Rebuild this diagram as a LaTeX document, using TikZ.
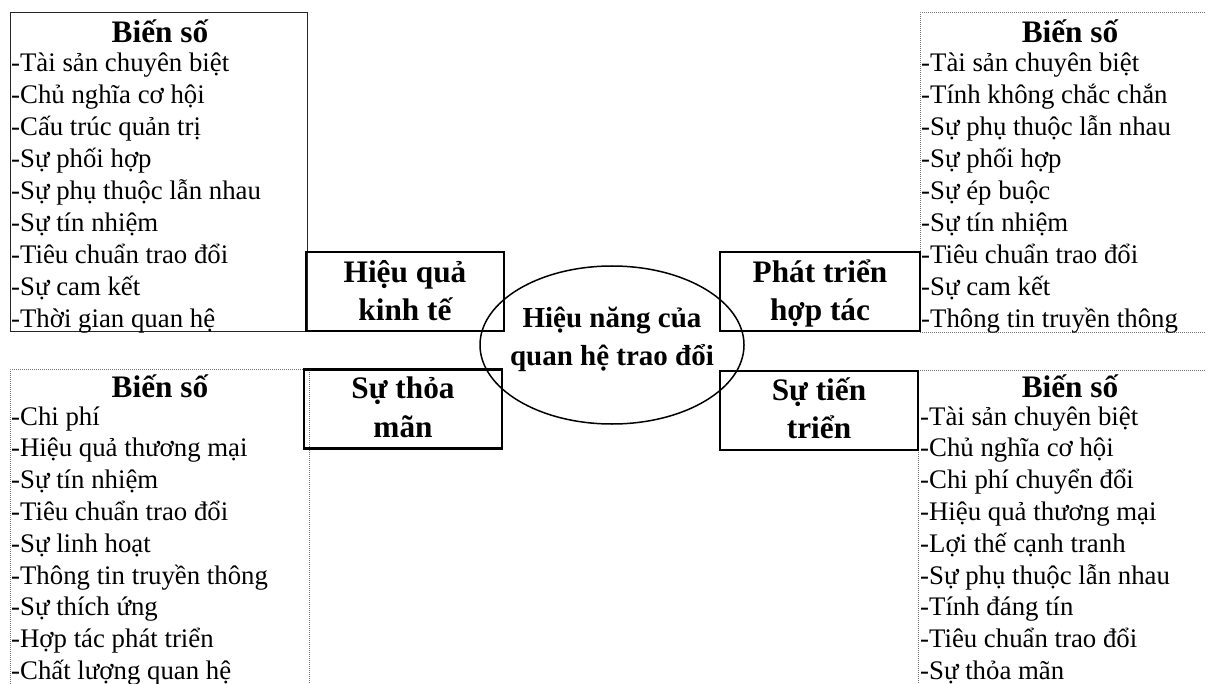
\documentclass[tikz,border=0pt]{standalone}
\usepackage{fontspec}
\setmainfont{Liberation Serif}
\usetikzlibrary{shapes.geometric}
\begin{document}
\begin{tikzpicture}[x=1pt,y=-1pt,
  item/.style={anchor=base west,inner sep=0pt,font=\fontsize{26.8}{32}\selectfont},
  ttl/.style={anchor=base,inner sep=0pt,font=\bfseries\fontsize{31.3}{37}\selectfont},
  elltxt/.style={anchor=base,inner sep=0pt,font=\bfseries\fontsize{29}{35}\selectfont},
  midbox/.style={draw,line width=2.2pt,minimum width=198pt,minimum height=79pt,inner sep=0pt},
  solidbox/.style={draw=black!85,line width=0.9pt,anchor=north west,inner sep=0pt},
  dotbox/.style={draw=black!55,line width=0.8pt,dash pattern=on 0.9pt off 1.1pt,anchor=north west,inner sep=0pt}]
\clip (0,0) rectangle (1206,684);
% outer variable boxes
\node[solidbox,minimum width=297pt,minimum height=319pt] (tlbox) at (10,12) {};
\node[dotbox,minimum width=298pt,minimum height=320pt] (trbox) at (920,12) {};
\node[dotbox,minimum width=299pt,minimum height=330pt] (blbox) at (10,369) {};
\node[dotbox,minimum width=300pt,minimum height=330pt] (brbox) at (918,370) {};
% titles
\node[ttl] (tlt) at (160,43) {Biến số};
\node[ttl] (trt) at (1070,43) {Biến số};
\node[ttl] (blt) at (160,397) {Biến số};
\node[ttl] (brt) at (1070,397) {Biến số};
% lists
\foreach \t [count=\i from 0] in {-Tài sản chuyên biệt,-Chủ nghĩa cơ hội,-Cấu trúc quản trị,-Sự phối hợp,-Sự phụ thuộc lẫn nhau,-Sự tín nhiệm,-Tiêu chuẩn trao đổi,-Sự cam kết,-Thời gian quan hệ}
  \node[item] (tl\i) at (11,{72+31.9*\i}) {\t};
\foreach \t [count=\i from 0] in {-Tài sản chuyên biệt,-Tính không chắc chắn,-Sự phụ thuộc lẫn nhau,-Sự phối hợp,-Sự ép buộc,-Sự tín nhiệm,-Tiêu chuẩn trao đổi,-Sự cam kết,-Thông tin truyền thông}
  \node[item] (tr\i) at (921,{72+31.9*\i}) {\t};
\foreach \t [count=\i from 0] in {-Chi phí,-Hiệu quả thương mại,-Sự tín nhiệm,-Tiêu chuẩn trao đổi,-Sự linh hoạt,-Thông tin truyền thông,-Sự thích ứng,-Hợp tác phát triển,-Chất lượng quan hệ}
  \node[item] (bl\i) at (11,{425+31.8*\i}) {\t};
\foreach \t [count=\i from 0] in {-Tài sản chuyên biệt,-Chủ nghĩa cơ hội,-Chi phí chuyển đổi,-Hiệu quả thương mại,-Lợi thế cạnh tranh,-Sự phụ thuộc lẫn nhau,-Tính đáng tín,-Tiêu chuẩn trao đổi,-Sự thỏa mãn}
  \node[item] (br\i) at (920,{425+31.8*\i}) {\t};
% middle boxes
\node[midbox] (hq) at (405,291.5) {};
\node[ttl] (hq1) at (405,283) {Hiệu quả};
\node[ttl] (hq2) at (405,320) {kinh tế};
\node[midbox,minimum width=200pt] (pt) at (820,291.5) {};
\node[ttl] (pt1) at (820,283) {Phát triển};
\node[ttl] (pt2) at (820,320) {hợp tác};
\node[midbox] (stm) at (403,409) {};
\node[ttl] (stm1) at (403,398) {Sự thỏa};
\node[ttl] (stm2) at (403,437) {mãn};
\node[midbox] (stt) at (819,410.5) {};
\node[ttl] (stt1) at (819,400) {Sự tiến};
\node[ttl] (stt2) at (819,438) {triển};
% centre ellipse
\node[draw,ellipse,line width=1.5pt,minimum width=264pt,minimum height=158pt,inner sep=0pt] (perf) at (612,345) {};
\node[elltxt] (perf1) at (612,327) {Hiệu năng của};
\node[elltxt] (perf2) at (612,365) {quan hệ trao đổi};
\end{tikzpicture}
\end{document}
